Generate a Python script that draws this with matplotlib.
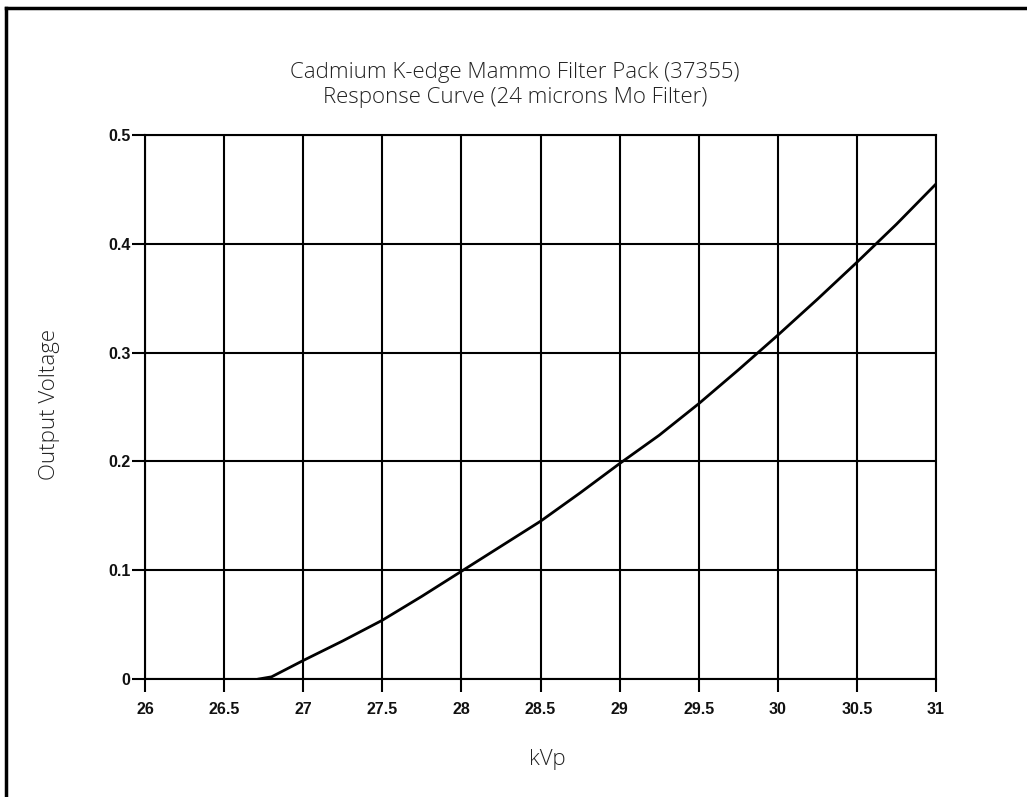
import matplotlib
matplotlib.use("Agg")
import matplotlib.pyplot as plt
from matplotlib.lines import Line2D

# Data
kvp = [26.72, 26.8, 27.0, 27.25, 27.5, 27.75, 28.0, 28.25, 28.5, 28.75,
       29.0, 29.25, 29.5, 29.75, 30.0, 30.25, 30.5, 30.75, 31.0]
voltage = [0.0, 0.002, 0.017, 0.035, 0.054, 0.076, 0.099, 0.122, 0.145, 0.171,
           0.198, 0.224, 0.253, 0.284, 0.316, 0.349, 0.383, 0.418, 0.455]

x_ticks = [26, 26.5, 27, 27.5, 28, 28.5, 29, 29.5, 30, 30.5, 31]
x_tick_labels = ["26", "26.5", "27", "27.5", "28", "28.5", "29", "29.5", "30", "30.5", "31"]
y_ticks = [0, 0.1, 0.2, 0.3, 0.4, 0.5]
y_tick_labels = ["0", "0.1", "0.2", "0.3", "0.4", "0.5"]

title = "Cadmium K-edge Mammo Filter Pack (37355)\nResponse Curve (24 microns Mo Filter)"

W, H = 1027, 797
fig = plt.figure(figsize=(W / 100, H / 100), dpi=100)
fig.patch.set_facecolor("white")

# figure frame (top and left lines only)
fig.add_artist(Line2D([6 / W, 6 / W], [0, 1 - 8 / H], transform=fig.transFigure,
                      color="black", lw=2.5))
fig.add_artist(Line2D([6 / W, 1], [1 - 8 / H, 1 - 8 / H], transform=fig.transFigure,
                      color="black", lw=2.5))

left, right = 145 / W, 936 / W
bottom, top = 1 - 679 / H, 1 - 135 / H
ax = fig.add_axes([left, bottom, right - left, top - bottom])

ax.plot(kvp, voltage, color="black", lw=2.0, zorder=3)

ax.set_xlim(26, 31)
ax.set_ylim(0, 0.5)
ax.set_xticks(x_ticks)
ax.set_xticklabels(x_tick_labels)
ax.set_yticks(y_ticks)
ax.set_yticklabels(y_tick_labels)

ax.grid(True, color="black", lw=1.5)
ax.set_axisbelow(True)
for s in ax.spines.values():
    s.set_color("black")
    s.set_linewidth(1.5)

ax.tick_params(axis="both", direction="out", length=9.5, width=1.5, color="black",
               labelsize=11.5)
ax.tick_params(axis="x", pad=7)
ax.tick_params(axis="y", pad=1)
for lab in ax.get_xticklabels() + ax.get_yticklabels():
    lab.set_fontfamily("Liberation Sans")
    lab.set_fontweight("bold")
    lab.set_color("#111111")

light = dict(family="Open Sans", fontweight="light", fontsize=16, color="#222222")
fig.text(515 / W, 1 - 85 / H, title, ha="center", va="center", linespacing=1.22, **light)
fig.text(50 / W, 1 - 404 / H, "Output Voltage", rotation=90, ha="center", va="center", **light)
fig.text(547 / W, 1 - 760 / H, "kVp", ha="center", va="center", **light)

fig.savefig("out.png", dpi=100, facecolor="white")
